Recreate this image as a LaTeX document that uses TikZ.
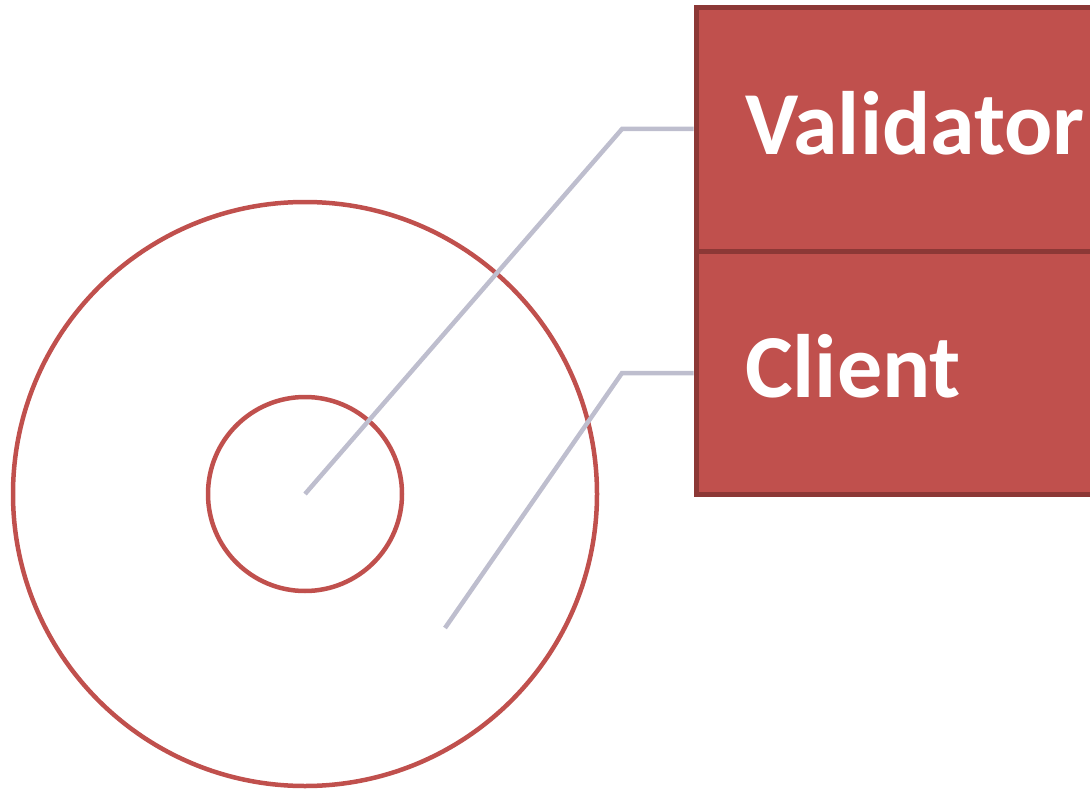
\documentclass[tikz,border=0pt]{standalone}
\usepackage{fontspec}
\setmainfont{Carlito}
\usepackage{tikz}
\definecolor{ringred}{RGB}{192, 80, 77}
\definecolor{boxred}{RGB}{192, 80, 77}
\definecolor{boxedge}{RGB}{140, 56, 54}
\definecolor{linkgray}{RGB}{190, 190, 206}
\usetikzlibrary{positioning}
\tikzset{
  ring/.style={circle, draw=ringred, line width=4.5pt, inner sep=0pt},
  layer/.style={rectangle, fill=boxred, draw=boxedge, line width=5pt, minimum width=410pt, minimum height=243pt, inner sep=0pt},
  layertext/.style={anchor=base west, text=white, inner sep=0pt, font=\fontsize{90}{100}\selectfont\bfseries},
  link/.style={draw=linkgray, line width=4.5pt}
}
\begin{document}
\begin{tikzpicture}
\useasboundingbox (0pt, 0pt) rectangle (1090pt, -789pt);
\node (outer) [ring, minimum size=584pt] at (305pt, -494pt) {};
\node (inner) [ring, minimum size=194pt] at (305pt, -494pt) {};
\node (validator) [layer] at (901pt, -129.5pt) {};
\node (client) [layer] at (901pt, -372.5pt) {};
\node (validatortext) [layertext] at (745pt, -154pt) {Validator};
\node (clienttext) [layertext] at (745pt, -397pt) {Client};
\coordinate (vbend) at (622pt, -129pt);
\coordinate (cbend) at (622pt, -373pt);
\coordinate (cfoot) at (445pt, -628pt);
\draw [link] (inner.center) -- (vbend) -- (vbend -| validator.west);
\draw [link] (cfoot) -- (cbend) -- (cbend -| client.west);
\end{tikzpicture}
\end{document}
